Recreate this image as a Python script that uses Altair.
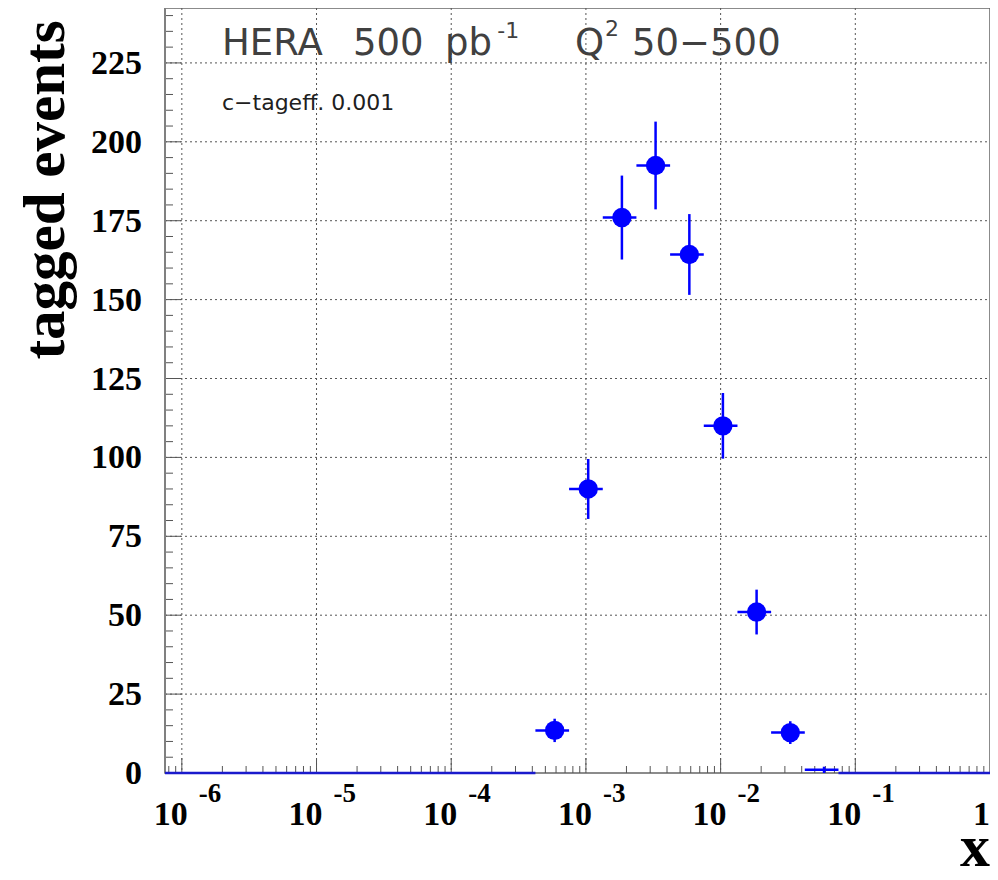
import altair as alt
import pandas as pd

# ---- data ----
x_center = [5.86e-4, 1.04e-3, 1.85e-3, 3.29e-3, 5.86e-3, 1.04e-2, 1.85e-2, 3.29e-2, 5.86e-2]
x_low    = [4.217e-4, 7.499e-4, 1.334e-3, 2.371e-3, 4.217e-3, 7.499e-3, 1.334e-2, 2.371e-2, 4.217e-2]
x_high   = [7.499e-4, 1.334e-3, 2.371e-3, 4.217e-3, 7.499e-3, 1.334e-2, 2.371e-2, 4.217e-2, 7.499e-2]
counts   = [13.5, 90.0, 176.0, 192.5, 164.3, 110.0, 51.0, 12.8, 1.0]
errors   = [3.7, 9.5, 13.3, 13.9, 12.8, 10.4, 7.1, 3.6, 1.0]

# empty-bin ranges drawn at zero
zero_low  = [7.499e-7, 7.499e-2]
zero_high = [4.217e-4, 1.0]

# axes
x_decades = [1e-6, 1e-5, 1e-4, 1e-3, 1e-2, 1e-1]
x_exps    = ["-6", "-5", "-4", "-3", "-2", "-1"]
x_one     = [1.0]
y_major   = [0, 25, 50, 75, 100, 125, 150, 175, 200, 225]
y_labels  = ["0", "25", "50", "75", "100", "125", "150", "175", "200", "225"]
y_minor   = [v for v in range(5, 245, 5) if v % 25 != 0]
x_minor   = [m * 10.0 ** e for e in range(-7, 0) for m in range(2, 10)
             if 7.499e-7 <= m * 10.0 ** e <= 1.0]

# annotations (data coordinates)
ann_big_text = ["HERA", "500", "pb", "Q", "50\u2212500"]
ann_big_x    = [1.987e-6, 1.865e-5, 8.99e-5, 8.29e-4, 2.198e-3]
ann_big_y    = [227.5, 227.5, 227.5, 227.5, 227.5]
ann_sup_text = ["-1", "2"]
ann_sup_x    = [2.20e-4, 1.385e-3]
ann_sup_y    = [233.0, 233.6]
ann_small_text = ["c\u2212tageff. 0.001"]
ann_small_x    = [1.987e-6]
ann_small_y    = [210.1]

W, H = 825, 765
XMIN, XMAX = 7.499e-7, 1.0
YMAX = 242.4
BLUE = "#0000ff"
SERIF = "Liberation Serif"
SANS = "DejaVu Sans"
GRID = "#555555"

xs = alt.Scale(type="log", domain=[XMIN, XMAX], nice=False)
ys = alt.Scale(domain=[0, YMAX], nice=False, zero=False)


def X(f):
    return alt.X(f, scale=xs, axis=None)


def Y(f):
    return alt.Y(f, scale=ys, axis=None)


pts = pd.DataFrame({"x": x_center, "xlo": x_low, "xhi": x_high,
                    "y": counts, "err": errors})
pts["ylo"] = pts["y"] - pts["err"]
pts["yhi"] = pts["y"] + pts["err"]

# dotted grid
xgrid = alt.Chart(pd.DataFrame({"x": x_decades})).mark_rule(
    color=GRID, strokeWidth=1, strokeDash=[2, 3]).encode(
    x=X("x:Q"), y=alt.value(0), y2=alt.value(H))
ygrid = alt.Chart(pd.DataFrame({"y": y_major[1:]})).mark_rule(
    color=GRID, strokeWidth=1, strokeDash=[2, 3]).encode(
    y=Y("y:Q"), x=alt.value(0), x2=alt.value(W))

# inner ticks
ymaj = alt.Chart(pd.DataFrame({"y": y_major})).mark_rule(color=GRID, strokeWidth=1).encode(
    y=Y("y:Q"), x=alt.value(0), x2=alt.value(16))
ymin = alt.Chart(pd.DataFrame({"y": y_minor})).mark_rule(color=GRID, strokeWidth=1).encode(
    y=Y("y:Q"), x=alt.value(0), x2=alt.value(8))
xmaj = alt.Chart(pd.DataFrame({"x": x_decades})).mark_rule(color=GRID, strokeWidth=1).encode(
    x=X("x:Q"), y=alt.value(H), y2=alt.value(H - 15))
xmin = alt.Chart(pd.DataFrame({"x": x_minor})).mark_rule(color=GRID, strokeWidth=1).encode(
    x=X("x:Q"), y=alt.value(H), y2=alt.value(H - 7))

left_line = alt.Chart(pd.DataFrame({"y": [0]})).mark_rule(color="#808080", strokeWidth=2).encode(
    x=alt.value(0), y=alt.value(0), y2=alt.value(H))

# zero line for empty bins
zero = alt.Chart(pd.DataFrame({"a": zero_low, "b": zero_high, "y": [0, 0]})).mark_rule(
    color="#1a1acc", strokeWidth=2.5).encode(x=X("a:Q"), x2="b:Q", y=Y("y:Q"))

# error bars and markers
ver = alt.Chart(pts).mark_rule(color=BLUE, strokeWidth=2.5).encode(
    x=X("x:Q"), y=Y("ylo:Q"), y2="yhi:Q")
hor = alt.Chart(pts).mark_rule(color=BLUE, strokeWidth=2.5).encode(
    x=X("xlo:Q"), x2="xhi:Q", y=Y("y:Q"))
dots = alt.Chart(pts).transform_filter("datum.y > 2").mark_circle(
    color=BLUE, opacity=1, size=375).encode(x=X("x:Q"), y=Y("y:Q"))

# y tick labels
ylab = alt.Chart(pd.DataFrame({"y": y_major, "t": y_labels})).mark_text(
    align="right", baseline="middle", dy=1,
    font=SERIF, fontWeight="bold", fontSize=34, color="black").encode(
    y=Y("y:Q"), x=alt.value(-23), text="t:N")

# x tick labels
lab10 = alt.Chart(pd.DataFrame({"x": x_decades})).mark_text(
    text="10", align="right", baseline="alphabetic", dx=6,
    font=SERIF, fontWeight="bold", fontSize=34, color="black").encode(
    x=X("x:Q"), y=alt.value(H + 52))
labexp = alt.Chart(pd.DataFrame({"x": x_decades, "t": x_exps})).mark_text(
    align="left", baseline="alphabetic", dx=17,
    font=SERIF, fontWeight="bold", fontSize=27, color="black").encode(
    x=X("x:Q"), y=alt.value(H + 29), text="t:N")
lab1 = alt.Chart(pd.DataFrame({"x": x_one})).mark_text(
    text="1", align="right", baseline="alphabetic",
    font=SERIF, fontWeight="bold", fontSize=34, color="black").encode(
    x=X("x:Q"), y=alt.value(H + 52))

# axis titles
xtitle = alt.Chart(pd.DataFrame({"x": x_one})).mark_text(
    text="x", align="right", baseline="alphabetic",
    font=SERIF, fontWeight="bold", fontSize=60, color="black").encode(
    x=X("x:Q"), y=alt.value(H + 93))
ytitle = alt.Chart(pd.DataFrame({"t": ["tagged events"]})).mark_text(
    angle=270, align="center", baseline="alphabetic",
    font=SERIF, fontWeight="bold", fontSize=59, color="black").encode(
    x=alt.value(-101), y=alt.value(182), text="t:N")

# annotations
big = alt.Chart(pd.DataFrame({"x": ann_big_x, "y": ann_big_y, "t": ann_big_text})).mark_text(
    align="left", baseline="alphabetic", font=SANS, fontSize=37, color="#404040").encode(
    x=X("x:Q"), y=Y("y:Q"), text="t:N")
sup = alt.Chart(pd.DataFrame({"x": ann_sup_x, "y": ann_sup_y, "t": ann_sup_text})).mark_text(
    align="left", baseline="alphabetic", font=SANS, fontSize=22, color="#404040").encode(
    x=X("x:Q"), y=Y("y:Q"), text="t:N")
small = alt.Chart(pd.DataFrame({"x": ann_small_x, "y": ann_small_y, "t": ann_small_text})).mark_text(
    align="left", baseline="alphabetic", font=SANS, fontSize=22, color="#202020").encode(
    x=X("x:Q"), y=Y("y:Q"), text="t:N")

chart = alt.layer(
    xgrid, ygrid, ymaj, ymin, xmaj, xmin, left_line, zero, hor, ver, dots,
    ylab, lab10, labexp, lab1, xtitle, ytitle, big, sup, small
).properties(
    width=W, height=H,
    autosize=alt.AutoSizeParams(type="none"),
    padding={"left": 157, "top": 0, "right": 0, "bottom": 95},
).configure_view(stroke="#666666", strokeWidth=1.5)

chart.save("out.html", embed_options={"renderer": "svg", "actions": False})
